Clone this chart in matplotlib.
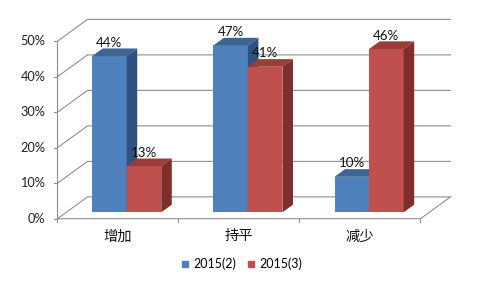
import matplotlib
matplotlib.use("Agg")
import matplotlib.pyplot as plt
from matplotlib.patches import Polygon

# data
categories = ['增加', '持平', '减少']
series_names = ['2015(2)', '2015(3)']
feb = [44, 47, 10]
mar = [13, 41, 46]
yticks = [0, 10, 20, 30, 40, 50]

plt.rcParams['font.family'] = ['Lato', 'Noto Sans CJK SC', 'DejaVu Sans']

# pseudo-3d geometry (x in category units, y in percent)
BAR_W = 0.285
BASE = 1.8               # bars sit a bit behind the front floor edge
BDX, BDY = 0.087, 2.15   # bar depth
WDX, WDY = 0.2475, 6.14  # wall depth
X0, X1 = -0.571, 2.424   # floor front edge
GRID = '#8f8f8f'

front_cols = ['#4f81bd', '#c0504d']
top_cols = ['#3c6593', '#9b3c3a']
side_cols = ['#2f5283', '#7f2e2c']

fig = plt.figure(figsize=(4.8, 2.88), dpi=100)
ax = fig.add_axes([0, 0, 1, 1])
ax.set_xlim(-1.0454, 2.915)
ax.set_ylim(-19.52, 61.6)
ax.axis('off')

# walls and grid
ax.plot([X0, X0], [0, yticks[-1]], color=GRID, lw=0.8, zorder=1)
for t in yticks:
    ax.plot([X0, X0 + WDX, X1 + WDX], [t, t + WDY, t + WDY], color=GRID, lw=0.8, zorder=1)
    ax.plot([X0 - 0.025, X0], [t, t], color=GRID, lw=0.8, zorder=1)
    ax.text(X0 - 0.1, t, '%d%%' % t, ha='right', va='center', fontsize=9.2, color='#222222')

# floor
ax.plot([X0, X1, X1 + WDX], [0, 0, WDY], color=GRID, lw=0.8, zorder=1)
edges = [X0 + (X1 - X0) * k / len(categories) for k in range(len(categories) + 1)]
for e in edges:
    ax.plot([e, e], [0, -0.9], color=GRID, lw=0.8, zorder=1)
for i, c in enumerate(categories):
    mid = (edges[i] + edges[i + 1]) / 2
    ax.text(mid, -5.0, c, ha='center', va='center', fontsize=10.3, color='#111111',
            family=['Noto Sans CJK SC', 'DejaVu Sans'])

# bars
for s, vals in enumerate([feb, mar]):
    for i, v in enumerate(vals):
        xl = i - BAR_W + s * BAR_W
        xr = xl + BAR_W
        top = BASE + v
        ax.bar(xl, v, BAR_W, bottom=BASE, align='edge', color=front_cols[s], lw=0, zorder=3)
        ax.add_patch(Polygon([(xl, top), (xr, top), (xr + BDX, top + BDY), (xl + BDX, top + BDY)],
                             closed=True, fc=top_cols[s], lw=0, zorder=3))
        ax.add_patch(Polygon([(xr, BASE), (xr + BDX, BASE + BDY), (xr + BDX, top + BDY), (xr, top)],
                             closed=True, fc=side_cols[s], lw=0, zorder=3))
        ax.text((xl + xr) / 2, top + 3.8, '%d%%' % v, ha='center', va='center',
                fontsize=9.6, color='#111111', zorder=5)

# legend
handles = [plt.Line2D([], [], marker='s', ls='', color=c, markersize=5) for c in front_cols]
fig.legend(handles, series_names, loc='center', bbox_to_anchor=(0.503, 0.083), ncol=2,
           frameon=False, fontsize=9, handlelength=0.7, handletextpad=0.3, columnspacing=0.8)

fig.savefig('out.png', dpi=100)
